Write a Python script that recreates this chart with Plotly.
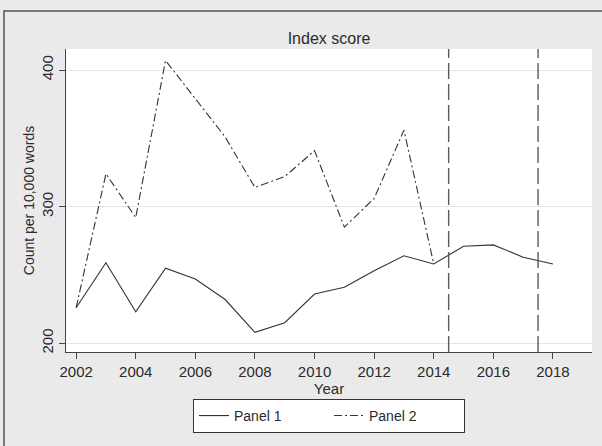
import plotly.graph_objects as go

# Annual index scores (count per 10,000 words)
years_p1 = [2002, 2003, 2004, 2005, 2006, 2007, 2008, 2009, 2010,
            2011, 2012, 2013, 2014, 2015, 2016, 2017, 2018]
panel1 = [226, 259, 223, 255, 247, 232, 208, 215, 236,
          241, 253, 264, 258, 271, 272, 263, 258]

years_p2 = [2002, 2003, 2004, 2005, 2006, 2007, 2008, 2009, 2010,
            2011, 2012, 2013, 2014]
panel2 = [226, 324, 292, 407, 379, 351, 314, 322, 341,
          285, 306, 356, 258]

# Break points marked with vertical dashed lines
breaks = [2014.5, 2017.5]

x_ticks = [2002, 2004, 2006, 2008, 2010, 2012, 2014, 2016, 2018]
y_ticks = [200, 300, 400]

FONT = "Liberation Sans, Arial, sans-serif"
INK = "#2b2b2b"
BG = "#eaeaea"

fig = go.Figure()
fig.add_trace(go.Scatter(
    x=years_p1, y=panel1, mode="lines", name="Panel 1",
    line=dict(color="#333333", width=1.1),
))
fig.add_trace(go.Scatter(
    x=years_p2, y=panel2, mode="lines", name="Panel 2",
    line=dict(color="#333333", width=1.1, dash="8px,3px,2px,3px"),
))

for b in breaks:
    fig.add_shape(type="line", xref="x", yref="paper", x0=b, x1=b, y0=0, y1=1,
                  line=dict(color="#5a5a5a", width=1.4, dash="16px,5px"))

# Outer frame around the graph region
fig.add_shape(type="rect", xref="paper", yref="paper",
              x0=-0.1179, x1=1.2, y0=-0.5, y1=1.1254,
              line=dict(color="#555555", width=1.5), fillcolor="rgba(0,0,0,0)",
              layer="below")

fig.update_layout(
    width=602, height=446,
    margin=dict(l=66, r=10, t=49, b=94),
    paper_bgcolor=BG, plot_bgcolor="white",
    font=dict(family=FONT, size=14, color=INK),
    title=dict(text="Index score", x=0.5, xref="paper", xanchor="center",
               y=1 - 38 / 446, yref="container", yanchor="middle",
               font=dict(size=16, color=INK)),
    showlegend=True,
    legend=dict(orientation="h", x=0.5, xanchor="center", y=-0.155, yanchor="top",
                bgcolor="white", bordercolor="#333333", borderwidth=1,
                font=dict(size=14, color=INK), entrywidth=90, itemwidth=30),
)

fig.update_xaxes(
    range=[2001.66, 2019.31], tickmode="array", tickvals=x_ticks,
    ticks="outside", ticklen=6, tickcolor="#444444", tickwidth=1,
    tickfont=dict(size=15),
    showline=True, linecolor="#444444", linewidth=1,
    showgrid=False, zeroline=False,
    title=dict(text="Year", standoff=0, font=dict(size=15, color=INK)),
)
fig.update_yaxes(
    range=[193.6, 415.4], tickmode="array", tickvals=y_ticks,
    ticks="outside", ticklen=6, tickcolor="#444444", tickwidth=1,
    tickangle=-90, tickfont=dict(size=15),
    showline=True, linecolor="#444444", linewidth=1,
    showgrid=True, gridcolor="#e6e6e6", gridwidth=1, zeroline=False,
    title=dict(text="Count per 10,000 words", standoff=1, font=dict(size=14, color=INK)),
)

fig.write_html("out.html")
